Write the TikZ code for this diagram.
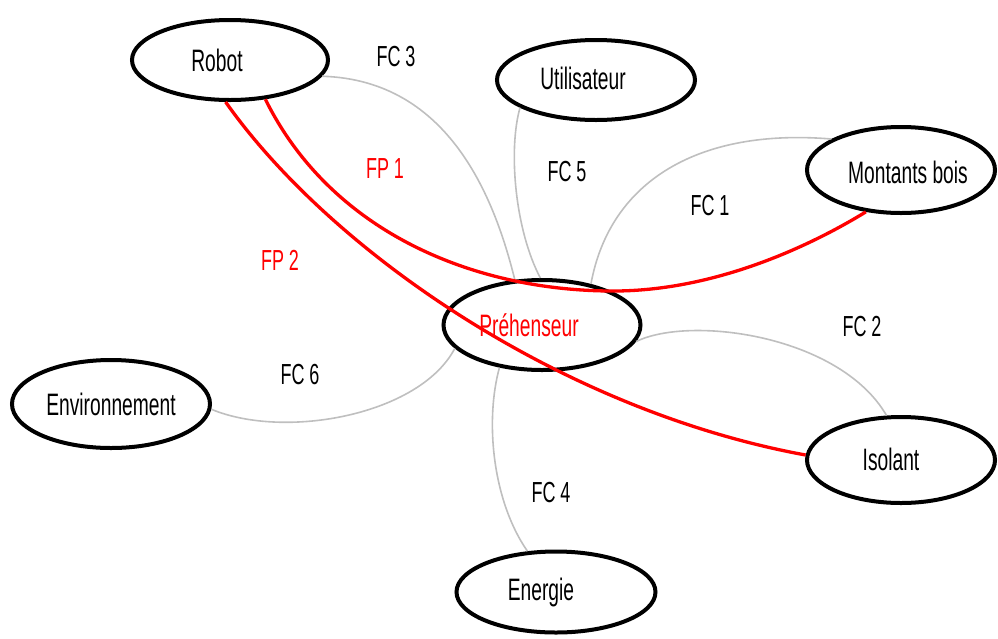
\documentclass[tikz,border=0pt]{standalone}
\usepackage{fontspec}
\setmainfont{Liberation Sans}[FakeStretch=0.62]
\usetikzlibrary{shapes.geometric}
\definecolor{conn}{HTML}{BFBFBF}
\definecolor{fpred}{HTML}{FF0000}
\tikzset{
  bubble/.style={ellipse, draw=black, line width=4pt, inner sep=0pt, fill=white},
  ntext/.style={font=\fontsize{31}{33}\selectfont, inner sep=0pt},
  lbl/.style={font=\fontsize{29}{31}\selectfont, inner sep=0pt},
  fcline/.style={draw=conn, line width=1.6pt},
  fpline/.style={draw=fpred, line width=3.3pt},
}
\begin{document}
\begin{tikzpicture}[x=1pt,y=-1pt]
\useasboundingbox (0,0) rectangle (998,638);
% ellipse nodes
\node[bubble, minimum width=196pt, minimum height=80pt] (rob) at (230,60) {};
\node[bubble, minimum width=198pt, minimum height=80pt] (uti) at (596,80) {};
\node[bubble, minimum width=188pt, minimum height=86pt] (mon) at (901,170) {};
\node[bubble, minimum width=197pt, minimum height=90pt] (pre) at (542,325) {};
\node[bubble, minimum width=198pt, minimum height=88pt] (env) at (111,404) {};
\node[bubble, minimum width=188pt, minimum height=86pt] (iso) at (901,460) {};
\node[bubble, minimum width=199pt, minimum height=81pt] (ene) at (556,592) {};
% gray connectors
\draw[fcline] (rob.-10) .. controls (450,80) and (495,200) .. (pre.121.7);
\draw[fcline] (uti.200) .. controls (508,150) and (515,230) .. (pre.92.5);
\draw[fcline] (mon.156) .. controls (700,128) and (610,180) .. (pre.40.7);
\draw[fcline] (pre.-10) .. controls (690,315) and (840,335) .. (iso.108);
\draw[fcline] (env.-3) .. controls (285,440) and (420,415) .. (pre.195);
\draw[fcline] (pre.-135) .. controls (485,420) and (492,500) .. (ene.125);
% red connectors
\draw[fpline] (rob.-48.5) .. controls (330,230) and (470,290) .. (610,291)
   .. controls (720,292) and (820,240) .. (mon.-130);
\draw[fpline] (rob.-96) .. controls (330,250) and (560,410) .. (iso.177);
% texts
\node[ntext] (robt) at (217,60) {Robot};
\node[ntext] (utit) at (583,78) {Utilisateur};
\node[ntext] (mont) at (908,172) {Montants bois};
\node[ntext, text=fpred] (pret) at (529,325) {Préhenseur};
\node[ntext] (envt) at (111,404) {Environnement};
\node[ntext] (isot) at (891,459) {Isolant};
\node[ntext] (enet) at (541,592) {Energie};
% labels
\node[lbl] (fc3) at (396,57) {FC 3};
\node[lbl] (fc5) at (567,172) {FC 5};
\node[lbl] (fc1) at (710,206) {FC 1};
\node[lbl] (fc2) at (862,327) {FC 2};
\node[lbl] (fc6) at (300,375) {FC 6};
\node[lbl] (fc4) at (551,493) {FC 4};
\node[lbl, text=fpred] (fp1) at (385,169) {FP 1};
\node[lbl, text=fpred] (fp2) at (280,260) {FP 2};
\end{tikzpicture}
\end{document}
